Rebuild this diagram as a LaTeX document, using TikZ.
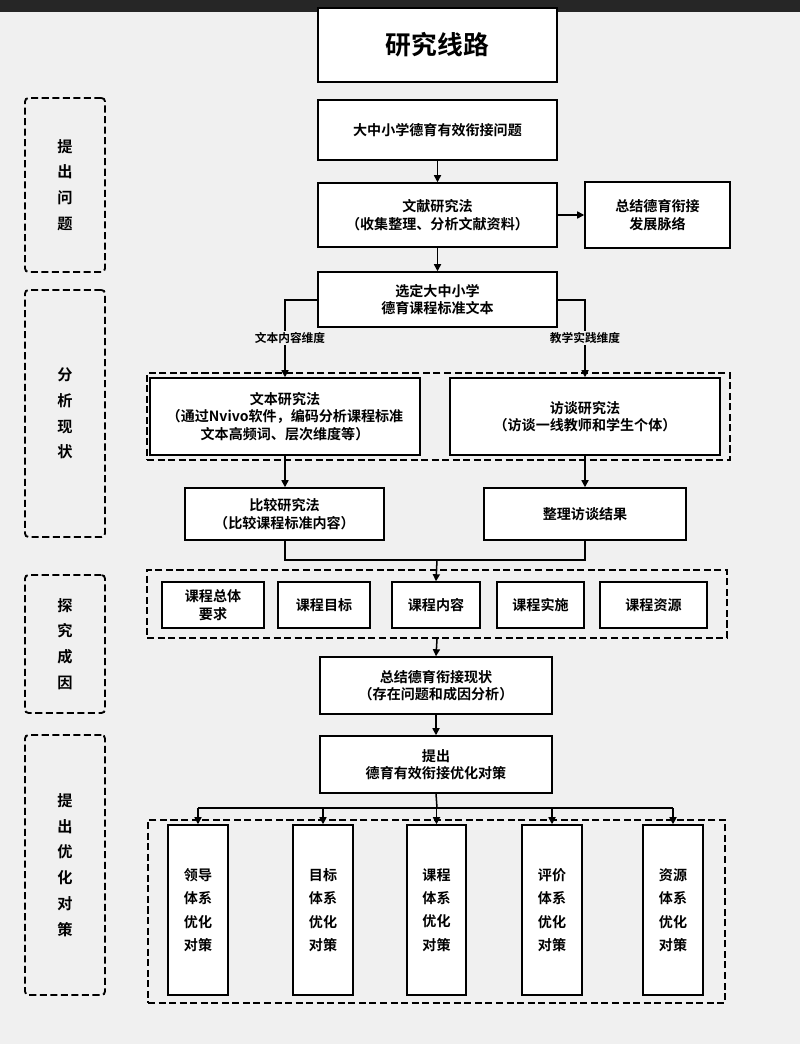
\documentclass[tikz,border=0pt]{standalone}
\usepackage{fontspec}
\setmainfont{Noto Sans CJK SC}[BoldFont={Noto Sans CJK SC Bold}]
\usetikzlibrary{arrows.meta}
\begin{document}
\begin{tikzpicture}[x=0.03cm,y=-0.03cm,
 box/.style={draw,line width=1.3pt,align=center,font=\bfseries\fontsize{12}{15}\selectfont,inner sep=0pt},
 tall/.style={font=\bfseries\fontsize{12}{20}\selectfont},
 grp/.style={draw,dashed,line width=1.8pt,dash pattern=on 6pt off 3pt},
 side/.style={draw,dashed,line width=1.6pt,dash pattern=on 6pt off 3pt,rounded corners=3pt,align=center,font=\bfseries\fontsize{13}{22}\selectfont},
 arr/.style={-{Triangle[length=6pt,width=6pt]},line width=1.3pt},
 ln/.style={line width=1.3pt},
 lab/.style={font=\bfseries\fontsize{10}{12}\selectfont,fill=gray!12,inner sep=1pt}]
\fill[gray!12] (0,0) rectangle (800,1044);
\fill[black!85] (0,0) rectangle (800,12);
\def\bx#1#2#3#4#5#6{\node[box,minimum width=(#4-#2)*0.03cm,minimum height=(#5-#3)*0.03cm,fill=white] (#1) at ({(#2+#4)/2},{(#3+#5)/2}) {#6};}
\def\tb#1#2#3#4#5#6{\node[box,tall,minimum width=(#4-#2)*0.03cm,minimum height=(#5-#3)*0.03cm,fill=white] (#1) at ({(#2+#4)/2},{(#3+#5)/2}) {#6};}
\def\sd#1#2#3#4{\node[side,minimum width=80*0.03cm,minimum height=(#3-#2)*0.03cm] (#1) at (65,{(#2+#3)/2}) {#4};}
\node[box,minimum width=239*0.03cm,minimum height=74*0.03cm,fill=white,font=\bfseries\fontsize{22}{26}\selectfont] (title) at (437.5,45) {研究线路};
\sd{s1}{98}{272}{提\\出\\问\\题}
\sd{s2}{290}{537}{分\\析\\现\\状}
\sd{s3}{575}{713}{探\\究\\成\\因}
\sd{s4}{735}{995}{提\\出\\优\\化\\对\\策}
\bx{p1}{318}{100}{557}{160}{大中小学德育有效衔接问题}
\bx{p2}{318}{183}{557}{247}{文献研究法\\（收集整理、分析文献资料）}
\bx{p3}{585}{182}{730}{248}{总结德育衔接\\发展脉络}
\bx{p4}{318}{272}{557}{327}{选定大中小学\\德育课程标准文本}
\node[grp,minimum width=583*0.03cm,minimum height=87*0.03cm] (g1) at (438.5,416.5) {};
\bx{t1}{150}{378}{420}{455}{文本研究法\\（通过Nvivo软件，编码分析课程标准\\文本高频词、层次维度等）}
\bx{t2}{450}{378}{720}{455}{访谈研究法\\（访谈一线教师和学生个体）}
\bx{c1}{185}{488}{384}{540}{比较研究法\\（比较课程标准内容）}
\bx{c2}{484}{488}{686}{540}{整理访谈结果}
\node[grp,minimum width=580*0.03cm,minimum height=68*0.03cm] (g2) at (437,604) {};
\bx{k1}{162}{582}{264}{628}{课程总体\\要求}
\bx{k2}{278}{582}{370}{628}{课程目标}
\bx{k3}{392}{582}{480}{628}{课程内容}
\bx{k4}{497}{582}{584}{628}{课程实施}
\bx{k5}{600}{582}{707}{628}{课程资源}
\bx{z1}{320}{657}{552}{714}{总结德育衔接现状\\（存在问题和成因分析）}
\bx{z2}{320}{736}{552}{793}{提出\\德育有效衔接优化对策}
\node[grp,minimum width=577*0.03cm,minimum height=183*0.03cm] (g3) at (436.5,911.5) {};
\tb{d1}{168}{825}{228}{995}{领导\\体系\\优化\\对策}
\tb{d2}{293}{825}{353}{995}{目标\\体系\\优化\\对策}
\tb{d3}{407}{825}{466}{995}{课程\\体系\\优化\\对策}
\tb{d4}{522}{825}{582}{995}{评价\\体系\\优化\\对策}
\tb{d5}{643}{825}{703}{995}{资源\\体系\\优化\\对策}
\draw[arr] (p1) -- (p2);
\draw[arr] (p2) -- (p3);
\draw[arr] (p2) -- (p4);
\draw[arr] (p4.west |- 0,300) -| (t1.north -| 285,0);
\draw[arr] (p4.east |- 0,300) -| (t2.north -| 585,0);
\node[lab] (l1) at (290,338) {文本内容维度};
\node[lab] (l2) at (585,338) {教学实践维度};
\draw[arr] (t1.south -| 285,0) -- (c1.north -| 285,0);
\draw[arr] (t2.south -| 585,0) -- (c2.north -| 585,0);
\coordinate (j) at (437,560);
\draw[ln] (c1.south -| 285,0) |- (j);
\draw[ln] (c2.south -| 585,0) |- (j);
\draw[arr] (j) -- (k3.north);
\draw[arr] (g2.south -| 437,0) -- (z1.north);
\draw[arr] (z1) -- (z2);
\coordinate (h) at (437,808);
\draw[ln] (z2.south) -- (h);
\draw[ln] (198,808) -- (673,808);
\foreach \d in {d1,d2,d3,d4,d5}{\draw[arr] (\d.north |- h) -- (\d.north);}
\end{tikzpicture}
\end{document}
